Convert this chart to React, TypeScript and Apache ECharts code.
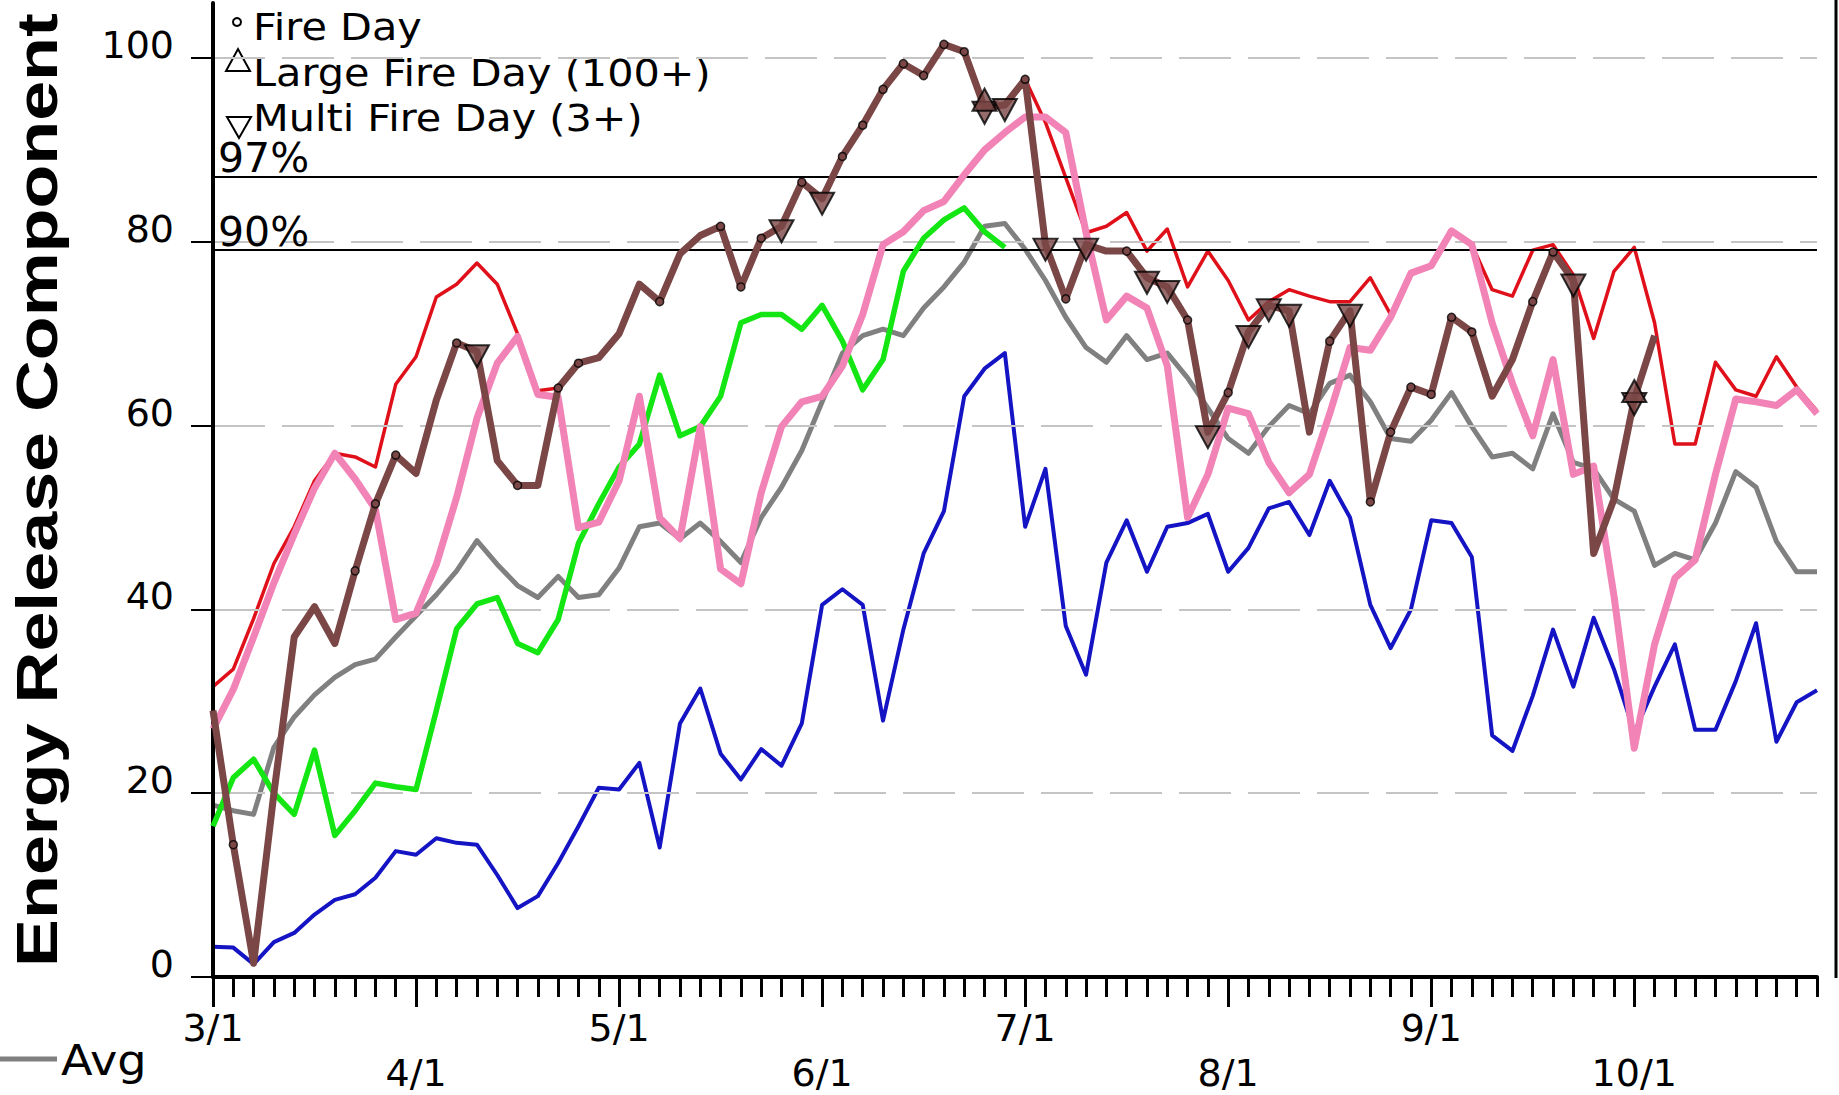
import React, { useEffect, useRef } from "react";
import * as echarts from "echarts";

// ---- categories (10 readings per month, ~every 3 days) ----
const MONTHS = ["3", "4", "5", "6", "7", "8", "9", "10"];
const STEP_DAYS = [1, 4, 7, 10, 13, 16, 19, 22, 25, 28];
const N_POINTS = 80;
const CATEGORIES = Array.from(
  { length: N_POINTS },
  (_, i) => `${MONTHS[Math.floor(i / 10)]}/${STEP_DAYS[i % 10]}`
);
const MONTH_LABELS = MONTHS.map((m) => `${m}/1`);
const Y_TICKS = [0, 20, 40, 60, 80, 100];

// ---- percentile thresholds ----
const PCT_97 = 87.1;
const PCT_90 = 79.1;

// ---- series values ----
const MAX_ERC = [
  31.6, 33.5, 39.0, 45.0, 49.0, 54.0, 57.0, 56.6, 55.5, 64.5,
  67.5, 74.0, 75.4, 77.7, 75.4, 70.0, 63.8, 64.1, 66.8, 67.4,
  70.0, 75.4, 73.5, 78.7, 80.7, 81.7, 75.1, 80.4, 81.7, 86.5,
  84.7, 89.3, 92.7, 96.6, 99.4, 98.1, 101.5, 100.7, 94.6, 94.9,
  97.7, 93.0, 87.0, 81.0, 81.7, 83.2, 79.0, 81.4, 75.1, 79.0,
  75.8, 71.5, 73.5, 74.8, 74.1, 73.5, 73.5, 76.1, 72.1, 76.4,
  77.4, 81.0, 79.7, 74.8, 74.1, 79.1, 79.7, 76.4, 69.5, 76.8,
  79.4, 71.2, 58.0, 58.0, 66.9, 63.9, 63.2, 67.5, 64.2, 61.6,
];
const MIN_ERC = [
  3.3, 3.2, 1.4, 3.8, 4.8, 6.8, 8.4, 9.0, 10.8, 13.7,
  13.3, 15.1, 14.6, 14.4, 11.1, 7.5, 8.8, 12.4, 16.4, 20.6,
  20.4, 23.3, 14.1, 27.6, 31.4, 24.3, 21.5, 24.8, 23.0, 27.6,
  40.5, 42.2, 40.5, 27.9, 37.8, 46.1, 50.7, 63.2, 66.2, 67.9,
  49.0, 55.3, 38.2, 32.9, 45.1, 49.7, 44.1, 49.0, 49.4, 50.4,
  44.1, 46.7, 51.0, 51.7, 48.1, 54.0, 50.0, 40.5, 35.8, 40.0,
  49.7, 49.4, 45.7, 26.3, 24.6, 30.6, 37.8, 31.6, 39.1, 33.5,
  26.6, 31.6, 36.2, 26.9, 26.9, 32.2, 38.5, 25.6, 29.9, 31.2,
];
const AVG_ERC = [
  18.7, 18.1, 17.7, 25.0, 28.3, 30.7, 32.6, 34.0, 34.6, 37.0,
  39.3, 41.6, 44.2, 47.5, 44.9, 42.6, 41.3, 43.6, 41.3, 41.6,
  44.5, 49.0, 49.4, 47.7, 49.4, 47.4, 45.1, 50.0, 53.3, 57.3,
  62.6, 67.9, 69.8, 70.5, 69.8, 72.8, 75.1, 77.8, 81.7, 82.0,
  79.2, 75.8, 71.8, 68.5, 66.9, 69.8, 67.2, 67.9, 65.2, 61.9,
  58.6, 57.0, 59.9, 62.2, 61.3, 64.6, 65.5, 62.6, 58.6, 58.3,
  60.6, 63.6, 59.9, 56.6, 57.0, 55.3, 61.3, 56.0, 55.3, 52.0,
  50.7, 44.8, 46.1, 45.4, 49.4, 55.0, 53.3, 47.4, 44.1, 44.1,
];
const GREEN_YEAR = [
  16.4, 21.7, 23.7, 20.0, 17.7, 24.7, 15.4, 18.1, 21.1, 20.7,
  20.4, 29.0, 37.9, 40.6, 41.3, 36.3, 35.3, 38.9, 47.2, 51.5,
  55.5, 58.0, 65.5, 58.9, 59.9, 63.2, 71.2, 72.1, 72.1, 70.5,
  73.1, 69.2, 63.9, 67.2, 76.8, 80.4, 82.4, 83.7, 81.1, 79.4,
];
const PINK_YEAR = [
  27.0, 31.3, 37.0, 42.9, 48.2, 53.2, 57.0, 54.2, 50.9, 38.9,
  39.6, 44.9, 52.2, 60.8, 66.8, 69.7, 63.4, 63.1, 48.9, 49.5,
  54.0, 63.2, 50.0, 47.7, 59.9, 44.4, 42.8, 52.7, 59.9, 62.6,
  63.2, 66.5, 72.1, 79.7, 81.1, 83.4, 84.4, 87.3, 90.0, 91.9,
  93.6, 93.6, 91.9, 81.0, 71.5, 74.1, 72.8, 66.5, 50.0, 54.7,
  61.9, 61.3, 56.0, 52.7, 54.7, 61.3, 68.5, 68.2, 71.8, 76.6,
  77.4, 81.2, 79.7, 71.2, 64.6, 58.9, 67.2, 54.7, 55.6, 41.5,
  24.9, 36.2, 43.4, 45.4, 54.7, 62.9, 62.6, 62.2, 63.9, 61.3,
];
const CURRENT_YEAR = [
  29.0, 14.4, 1.5, 20.0, 37.0, 40.3, 36.3, 44.2, 51.5, 56.8,
  54.8, 62.8, 69.0, 68.1, 56.2, 53.5, 53.5, 64.1, 66.8, 67.4,
  70.0, 75.4, 73.5, 78.7, 80.7, 81.7, 75.1, 80.4, 81.7, 86.5,
  84.7, 89.3, 92.7, 96.6, 99.4, 98.1, 101.5, 100.7, 94.6, 94.9,
  97.7, 79.7, 73.8, 79.7, 79.0, 79.0, 76.1, 75.1, 71.5, 59.3,
  63.6, 70.2, 73.1, 72.5, 59.3, 69.2, 72.5, 51.7, 59.3, 64.2,
  63.4, 71.8, 70.2, 63.2, 67.2, 73.5, 78.9, 75.8, 46.1, 52.0,
  62.9, 69.8,
];

// ---- fire-day markers on the current year (category indexes) ----
const FIRE_DAY_IDX = [1, 7, 8, 9, 12, 15, 17, 18, 22, 25, 26, 27, 29, 31, 32, 33, 34, 35, 36, 37, 40, 42, 45, 48, 50, 55, 57, 58, 59, 60, 61, 62, 65, 66];
const MULTI_FIRE_IDX = [13, 28, 30, 38, 39, 41, 43, 46, 47, 49, 51, 52, 53, 56, 67, 70];
const LARGE_FIRE_IDX = [38, 70];

const FONT = "DejaVu Sans";
const BROWN = "#7a4646";
const DOWN_TRI = "path://M0,0L10,0L5,9Z";
const UP_TRI = "path://M5,0L10,9L0,9Z";

const markerData = (idx: number[]) => idx.map((i) => [i, CURRENT_YEAR[i]]);

function buildOption() {
  const lineSeries = (name: string, data: number[], color: string, width: number, z: number, extra: any = {}) => ({
    name,
    type: "line",
    data,
    xAxisIndex: 0,
    symbol: "none",
    z,
    lineStyle: { color, width, join: "round" },
    itemStyle: { color },
    silent: true,
    ...extra,
  });

  const pctLabel = (text: string) => ({
    show: true,
    position: "insideStartTop",
    formatter: text,
    fontFamily: FONT,
    fontSize: 41,
    color: "#000",
    distance: [5, -2],
  });

  return {
    animation: false,
    backgroundColor: "#ffffff",
    grid: { left: 213, right: 22, top: 3, bottom: 118, containLabel: false },
    xAxis: [
      {
        type: "category",
        data: CATEGORIES,
        boundaryGap: false,
        position: "bottom",
        axisLine: { show: true, lineStyle: { color: "#000", width: 4 } },
        axisTick: { show: true, interval: 0, length: 20, lineStyle: { color: "#000", width: 3 } },
        axisLabel: { show: false },
        splitLine: { show: false },
        z: 5,
      },
      {
        type: "category",
        data: CATEGORIES,
        boundaryGap: false,
        position: "bottom",
        axisLine: { show: false },
        axisTick: { show: true, interval: 9, length: 30, lineStyle: { color: "#000", width: 3 } },
        axisLabel: {
          show: true,
          interval: 9,
          margin: 28,
          fontFamily: FONT,
          fontSize: 38,
          lineHeight: 45,
          color: "#000",
          formatter: (val: string) => {
            const mi = MONTH_LABELS.indexOf(val);
            return mi % 2 === 1 ? `\n${val}` : val;
          },
        },
        splitLine: { show: false },
        z: 5,
      },
    ],
    yAxis: {
      type: "value",
      min: 0,
      max: 106,
      interval: 20,
      axisLine: { show: true, lineStyle: { color: "#000", width: 4 } },
      axisTick: { show: true, length: 22, customValues: Y_TICKS, lineStyle: { color: "#000", width: 2 } },
      axisLabel: {
        show: true,
        customValues: Y_TICKS,
        margin: 39,
        fontFamily: FONT,
        fontSize: 38,
        lineHeight: 26,
        verticalAlign: "bottom",
        color: "#000",
        formatter: (v: number) => (Y_TICKS.includes(v) ? String(v) : ""),
      },
      splitLine: { show: false },
      z: 5,
    },
    series: [
      lineSeries("Max", MAX_ERC, "#e0101a", 3.5, 2, {
        markLine: {
          silent: true,
          symbol: "none",
          animation: false,
          data: [
            ...Y_TICKS.filter((v) => v > 0).map((v) => ({
              yAxis: v,
              lineStyle: { color: "#c4c4c4", width: 2, type: [52, 17] },
              label: { show: false },
            })),
            { yAxis: PCT_97, lineStyle: { color: "#000", width: 2, type: "solid" }, label: pctLabel("97%") },
            { yAxis: PCT_90, lineStyle: { color: "#000", width: 2, type: "solid" }, label: pctLabel("90%") },
          ],
        },
      }),
      lineSeries("Avg", AVG_ERC, "#808080", 5, 3),
      lineSeries("Min", MIN_ERC, "#1414c4", 4, 4),
      lineSeries("Year 1", GREEN_YEAR, "#14e614", 5.5, 5),
      lineSeries("Year 2", PINK_YEAR, "#f283b6", 7, 6),
      lineSeries("Current", CURRENT_YEAR, BROWN, 7, 7),
      {
        name: "Fire Day",
        type: "scatter",
        xAxisIndex: 0,
        data: markerData(FIRE_DAY_IDX),
        symbol: "circle",
        symbolSize: 8,
        z: 8,
        silent: true,
        itemStyle: { color: BROWN, borderColor: "#000", borderWidth: 1.5 },
      },
      {
        name: "Multi Fire Day (3+)",
        type: "scatter",
        xAxisIndex: 0,
        data: markerData(MULTI_FIRE_IDX),
        symbol: DOWN_TRI,
        symbolSize: [24, 22],
        symbolOffset: [0, 5],
        symbolKeepAspect: false,
        z: 9,
        silent: true,
        itemStyle: { color: BROWN, borderColor: "#000", borderWidth: 2 },
      },
      {
        name: "Large Fire Day (100+)",
        type: "scatter",
        xAxisIndex: 0,
        data: markerData(LARGE_FIRE_IDX),
        symbol: UP_TRI,
        symbolSize: [24, 22],
        symbolOffset: [0, -8],
        symbolKeepAspect: false,
        z: 9,
        silent: true,
        itemStyle: { color: BROWN, borderColor: "#000", borderWidth: 2 },
      },
    ],
    graphic: [
      {
        type: "text",
        x: 37,
        y: 490,
        rotation: Math.PI / 2,
        scaleX: 1.26,
        style: {
          text: "Energy Release Component",
          fontFamily: "Liberation Sans",
          fontWeight: "bold",
          fontSize: 57,
          fill: "#000",
          textAlign: "center",
          textVerticalAlign: "middle",
        },
      },
      // legend glyphs
      { type: "circle", shape: { cx: 237, cy: 22, r: 4 }, style: { fill: "none", stroke: "#000", lineWidth: 2 } },
      { type: "polygon", shape: { points: [[226, 71], [250, 71], [238, 49]] }, style: { fill: "none", stroke: "#000", lineWidth: 2 } },
      { type: "polygon", shape: { points: [[227, 117], [251, 117], [239, 138]] }, style: { fill: "none", stroke: "#000", lineWidth: 2 } },
      {
        type: "text", x: 253, y: 27, scaleX: 1.09,
        style: { text: "Fire Day", fontFamily: FONT, fontSize: 38, fill: "#000", textVerticalAlign: "middle" },
      },
      {
        type: "text", x: 253, y: 73, scaleX: 1.09,
        style: { text: "Large Fire Day (100+)", fontFamily: FONT, fontSize: 38, fill: "#000", textVerticalAlign: "middle" },
      },
      {
        type: "text", x: 253, y: 118, scaleX: 1.09,
        style: { text: "Multi Fire Day (3+)", fontFamily: FONT, fontSize: 38, fill: "#000", textVerticalAlign: "middle" },
      },
      // partial "Avg" legend at bottom left
      { type: "line", shape: { x1: 0, y1: 1059, x2: 57, y2: 1059 }, style: { stroke: "#808080", lineWidth: 5 } },
      {
        type: "text", x: 61, y: 1060, scaleX: 1.1,
        style: { text: "Avg", fontFamily: FONT, fontSize: 42, fill: "#000", textVerticalAlign: "middle" },
      },
      // right frame edge
      { type: "line", shape: { x1: 1836, y1: 0, x2: 1836, y2: 978 }, style: { stroke: "#000", lineWidth: 3 } },
    ],
  };
}

export default function App() {
  const ref = useRef<HTMLDivElement>(null);
  useEffect(() => {
    document.body.style.margin = "0";
    if (!ref.current) return;
    const chart = echarts.init(ref.current, null, { renderer: "svg" });
    chart.setOption(buildOption() as any);
    return () => chart.dispose();
  }, []);
  return (
    <div
      ref={ref}
      style={{ position: "fixed", left: 0, top: 0, width: 1839, height: 1095, background: "#fff" }}
    />
  );
}
